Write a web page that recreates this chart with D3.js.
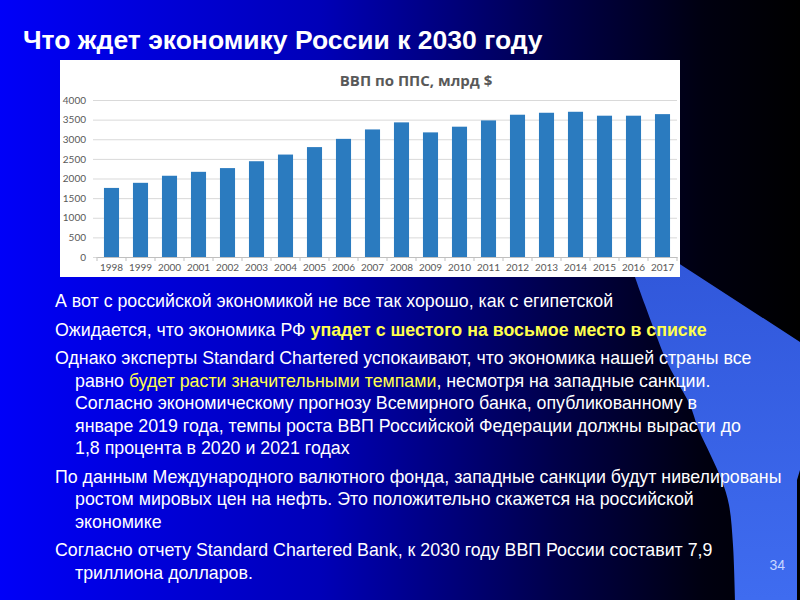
<!DOCTYPE html>
<html>
<head>
<meta charset="utf-8">
<script src="https://cdn.jsdelivr.net/npm/d3@7"></script>
<style>
  body { margin: 0; background: #000; }
  svg { display: block; }
  .grid line { stroke: #d9d9d9; }
  .grid path { display: none; }
  .y-axis text, .x-axis text { fill: #595959; font-family: Lato, "Open Sans", sans-serif; font-size: 10px; }
  .slide-text { font-family: "Liberation Sans", Arial, sans-serif; font-size: 17.8px; fill: #ffffff; }
  .hl { fill: #ffff4d; }
</style>
</head>
<body>
<div id="slide"></div>
<script>
// Données du graphique
const years = ["1998", "1999", "2000", "2001", "2002", "2003", "2004", "2005", "2006", "2007",
               "2008", "2009", "2010", "2011", "2012", "2013", "2014", "2015", "2016", "2017"];
const gdp = [1760, 1890, 2070, 2170, 2265, 2440, 2610, 2800, 3010, 3250,
             3430, 3175, 3320, 3480, 3625, 3675, 3700, 3600, 3600, 3640];
const yTicks = [0, 500, 1000, 1500, 2000, 2500, 3000, 3500, 4000];

const slideTitle = "Что ждет экономику России к 2030 году";
const chartTitle = "ВВП по ППС, млрд $";
const pageNumber = "34";

// Texte de la diapositive : [texte, surligné, gras]
const paragraphs = [
    [[["А вот с российской экономикой не все так хорошо, как с египетской", false, false]]],
    [[["Ожидается, что экономика РФ ", false, false], ["упадет с шестого на восьмое место в списке", true, true]]],
    [
        [["Однако эксперты Standard Chartered успокаивают, что экономика нашей страны все", false, false]],
        [["равно ", false, false], ["будет расти", true, false], [" ", false, false], ["значительными темпами", true, false], [", несмотря на западные санкции.", false, false]],
        [["Согласно экономическому прогнозу Всемирного банка, опубликованному в", false, false]],
        [["январе 2019 года, темпы роста ВВП Российской Федерации должны вырасти до", false, false]],
        [["1,8 процента в 2020 и 2021 годах", false, false]]
    ],
    [
        [["По данным Международного валютного фонда, западные санкции будут нивелированы", false, false]],
        [["ростом мировых цен на нефть. Это положительно скажется на российской", false, false]],
        [["экономике", false, false]]
    ],
    [
        [["Согласно отчету Standard Chartered Bank, к 2030 году ВВП России составит 7,9", false, false]],
        [["триллиона долларов.", false, false]]
    ]
];

const W = 800, H = 600;

const svg = d3.select("#slide")
    .append("svg")
    .attr("width", W)
    .attr("height", H);

// Fond en dégradé
const defs = svg.append("defs");
const bg = defs.append("linearGradient").attr("id", "bg")
    .attr("x1", "0%").attr("y1", "0%").attr("x2", "100%").attr("y2", "0%");
bg.append("stop").attr("offset", "0%").attr("stop-color", "#0000f8");
bg.append("stop").attr("offset", "40%").attr("stop-color", "#0000b8");
bg.append("stop").attr("offset", "70%").attr("stop-color", "#000048");
bg.append("stop").attr("offset", "88%").attr("stop-color", "#000010");
bg.append("stop").attr("offset", "100%").attr("stop-color", "#000000");

const wedge = defs.append("linearGradient").attr("id", "wedge")
    .attr("x1", "0%").attr("y1", "0%").attr("x2", "0%").attr("y2", "100%");
wedge.append("stop").attr("offset", "0%").attr("stop-color", "#2f55d8");
wedge.append("stop").attr("offset", "100%").attr("stop-color", "#3f6cf0");

svg.append("rect").attr("width", W).attr("height", H).attr("fill", "url(#bg)");

// Forme décorative à droite (en partie cachée par le graphique)
const edge = [[618, 224], [636, 280], [645, 305], [655, 332], [666, 360], [677, 381], [690, 405],
              [698, 428], [711, 456], [722, 481], [729, 505], [733, 545], [735, 600]];
const edgePath = d3.line().curve(d3.curveCatmullRom)(edge);
svg.append("path")
    .attr("d", edgePath + " L797,600 L797,480 L800,470 L800,342 Z")
    .attr("fill", "url(#wedge)");

// Titre
svg.append("text")
    .attr("x", 23)
    .attr("y", 49)
    .attr("fill", "#ffffff")
    .style("font-family", "'Liberation Sans', Arial, sans-serif")
    .style("font-weight", "bold")
    .style("font-size", "26.5px")
    .text(slideTitle);

// Boîte du graphique
const box = { x: 60, y: 60, w: 620, h: 217 };
svg.append("rect")
    .attr("x", box.x).attr("y", box.y)
    .attr("width", box.w).attr("height", box.h)
    .attr("fill", "#ffffff");

svg.append("text")
    .attr("x", 416)
    .attr("y", 86)
    .attr("text-anchor", "middle")
    .attr("fill", "#595959")
    .style("font-family", "'Open Sans', sans-serif")
    .style("font-weight", "bold")
    .style("font-size", "15px")
    .text(chartTitle);

const margin = { top: 100, left: 97 };
const width = 580, height = 157;

const g = svg.append("g")
    .attr("transform", "translate(" + margin.left + "," + margin.top + ")");

const x = d3.scaleBand()
    .domain(years)
    .range([0, width])
    .paddingInner(0.48)
    .paddingOuter(0.24);

const y = d3.scaleLinear()
    .domain([0, 4000])
    .range([height, 0]);

// Lignes de grille
g.append("g")
    .attr("class", "grid")
    .call(d3.axisLeft(y).tickValues(yTicks).tickSize(-width - 4).tickFormat(""))
    .attr("transform", "translate(-4,0)")
    .selectAll("line").attr("x1", 0).attr("x2", width + 4);

g.append("g")
    .attr("class", "y-axis")
    .call(d3.axisLeft(y).tickValues(yTicks).tickSize(0).tickPadding(11).tickFormat(d3.format("d")))
    .call(g => g.select(".domain").remove());

// Barres
g.selectAll(".bar")
    .data(gdp)
    .enter().append("rect")
    .attr("class", "bar")
    .attr("x", (d, i) => x(years[i]))
    .attr("y", d => y(d))
    .attr("width", x.bandwidth())
    .attr("height", d => height - y(d))
    .attr("fill", "#2b7bbf");

// Axe X
const xAxis = g.append("g")
    .attr("class", "x-axis")
    .attr("transform", "translate(0," + height + ")")
    .call(d3.axisBottom(x).tickSize(0).tickPadding(7));
xAxis.select(".domain").attr("stroke", "#bfbfbf");

const half = (x.step() - x.bandwidth()) / 2;
g.selectAll(".xtick")
    .data(years.concat(["end"]))
    .enter().append("line")
    .attr("x1", (d, i) => i < years.length ? x(d) - half : x(years[years.length - 1]) + x.bandwidth() + half)
    .attr("x2", (d, i) => i < years.length ? x(d) - half : x(years[years.length - 1]) + x.bandwidth() + half)
    .attr("y1", height)
    .attr("y2", height + 4)
    .attr("stroke", "#bfbfbf");

// Texte
const lineGap = 22.5, paraGap = 28.5;
let yPos = 307;
paragraphs.forEach(para => {
    para.forEach((line, li) => {
        const t = svg.append("text")
            .attr("class", "slide-text")
            .attr("x", li === 0 ? 55 : 75)
            .attr("y", yPos);
        line.forEach(seg => {
            t.append("tspan")
                .attr("class", seg[1] ? "hl" : null)
                .style("font-weight", seg[2] ? "bold" : null)
                .text(seg[0]);
        });
        yPos += lineGap;
    });
    yPos += paraGap - lineGap;
});

svg.append("text")
    .attr("x", 785)
    .attr("y", 570)
    .attr("text-anchor", "end")
    .attr("fill", "#c8d6ff")
    .style("font-family", "'Liberation Sans', Arial, sans-serif")
    .style("font-size", "14px")
    .text(pageNumber);
</script>
</body>
</html>
